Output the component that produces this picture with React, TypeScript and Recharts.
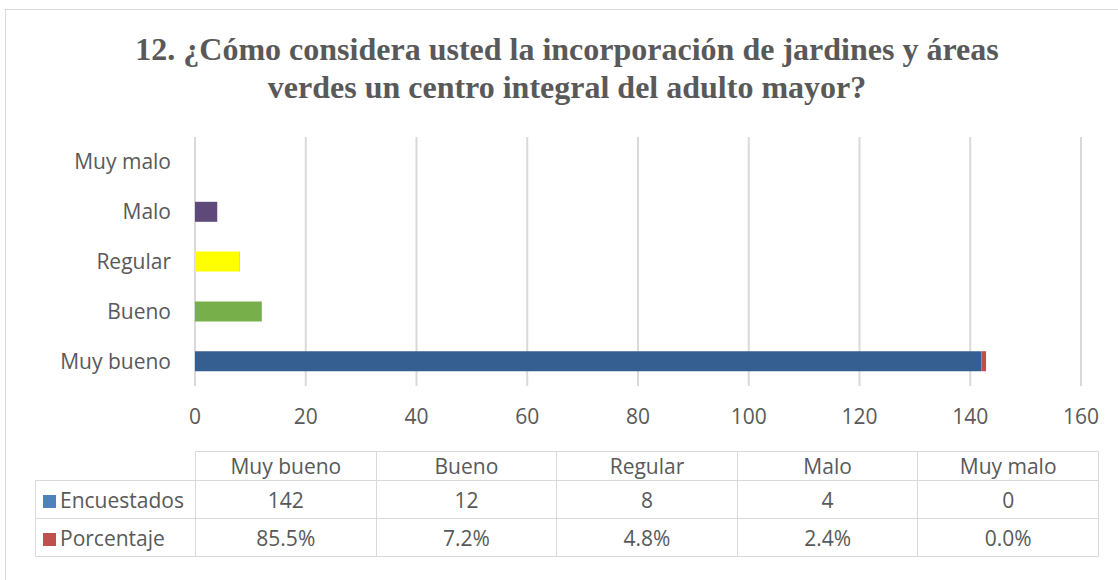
import { BarChart, Bar, XAxis, YAxis, CartesianGrid, Cell } from 'recharts';

const categories = ['Muy bueno', 'Bueno', 'Regular', 'Malo', 'Muy malo'];
const encuestados = [142, 12, 8, 4, 0];
const porcentaje = [0.855, 0.072, 0.048, 0.024, 0.0];
const barColors = ['#365F91', '#77B04A', '#FFFF00', '#5F497A', '#8064A2'];
const xTicks = [0, 20, 40, 60, 80, 100, 120, 140, 160];

const chartData = categories
  .map((name, i) => ({ name, encuestados: encuestados[i], porcentaje: porcentaje[i] }))
  .reverse();

const textColor = '#595959';
const gridColor = '#D9D9D9';
const labelFont = '"Open Sans", Lato, sans-serif';

export default function App() {
  const cell = {
    border: `1px solid ${gridColor}`,
    textAlign: 'center' as const,
    padding: 0,
    whiteSpace: 'nowrap' as const,
  };
  const firstCol = { ...cell, textAlign: 'left' as const, paddingLeft: 7 };
  return (
    <div style={{ position: 'absolute', left: 0, top: 0, width: 1118, height: 580, background: '#fff', overflow: 'hidden' }}>
      <div style={{ position: 'absolute', left: 5, top: 9, width: 1200, height: 700, border: `1px solid ${gridColor}` }} />
      <div
        style={{
          position: 'absolute',
          left: 0,
          top: 30,
          width: 1134,
          textAlign: 'center',
          fontFamily: '"Liberation Serif", "Times New Roman", serif',
          fontWeight: 'bold',
          fontSize: 32,
          lineHeight: '38px',
          color: textColor,
        }}
      >
        12. ¿Cómo considera usted la incorporación de jardines y áreas
        <br />
        verdes un centro integral del adulto mayor?
      </div>
      <div style={{ position: 'absolute', left: 0, top: 0 }}>
        <BarChart
          width={1118}
          height={580}
          data={chartData}
          layout='vertical'
          margin={{ top: 137, bottom: 164, left: 35, right: 37 }}
          barSize={20}
        >
          <CartesianGrid horizontal={false} stroke={gridColor} strokeWidth={2} />
          <XAxis
            type='number'
            domain={[0, 160]}
            ticks={xTicks}
            axisLine={false}
            tickLine={false}
            tickMargin={17}
            tick={{ fill: textColor, fontSize: 21, fontFamily: labelFont }}
          />
          <YAxis
            type='category'
            dataKey='name'
            width={160}
            axisLine={false}
            tickLine={false}
            tickMargin={18}
            tick={{ fill: textColor, fontSize: 21, fontFamily: labelFont }}
          />
          <Bar dataKey='encuestados' stackId='a' isAnimationActive={false}>
            {chartData.map((d) => (
              <Cell key={d.name} fill={barColors[categories.indexOf(d.name)]} />
            ))}
          </Bar>
          <Bar dataKey='porcentaje' stackId='a' fill='#C0504D' isAnimationActive={false} />
        </BarChart>
      </div>
      <table
        style={{
          position: 'absolute',
          left: 35,
          top: 451,
          width: 1063,
          tableLayout: 'fixed',
          borderCollapse: 'collapse',
          fontFamily: labelFont,
          fontSize: 21,
          color: textColor,
        }}
      >
        <colgroup>
          <col style={{ width: 160 }} />
          {categories.map((c) => (
            <col key={c} style={{ width: 180.6 }} />
          ))}
        </colgroup>
        <tbody>
          <tr style={{ height: 29 }}>
            <td style={{ padding: 0 }} />
            {categories.map((c) => (
              <td key={c} style={cell}>{c}</td>
            ))}
          </tr>
          <tr style={{ height: 38 }}>
            <td style={firstCol}>
              <span style={{ display: 'inline-block', width: 13, height: 13, background: '#4F81BD', marginRight: 4 }} />
              Encuestados
            </td>
            {encuestados.map((v, i) => (
              <td key={i} style={cell}>{v}</td>
            ))}
          </tr>
          <tr style={{ height: 38 }}>
            <td style={firstCol}>
              <span style={{ display: 'inline-block', width: 13, height: 13, background: '#C0504D', marginRight: 4 }} />
              Porcentaje
            </td>
            {porcentaje.map((v, i) => (
              <td key={i} style={cell}>{(v * 100).toFixed(1)}%</td>
            ))}
          </tr>
        </tbody>
      </table>
    </div>
  );
}
